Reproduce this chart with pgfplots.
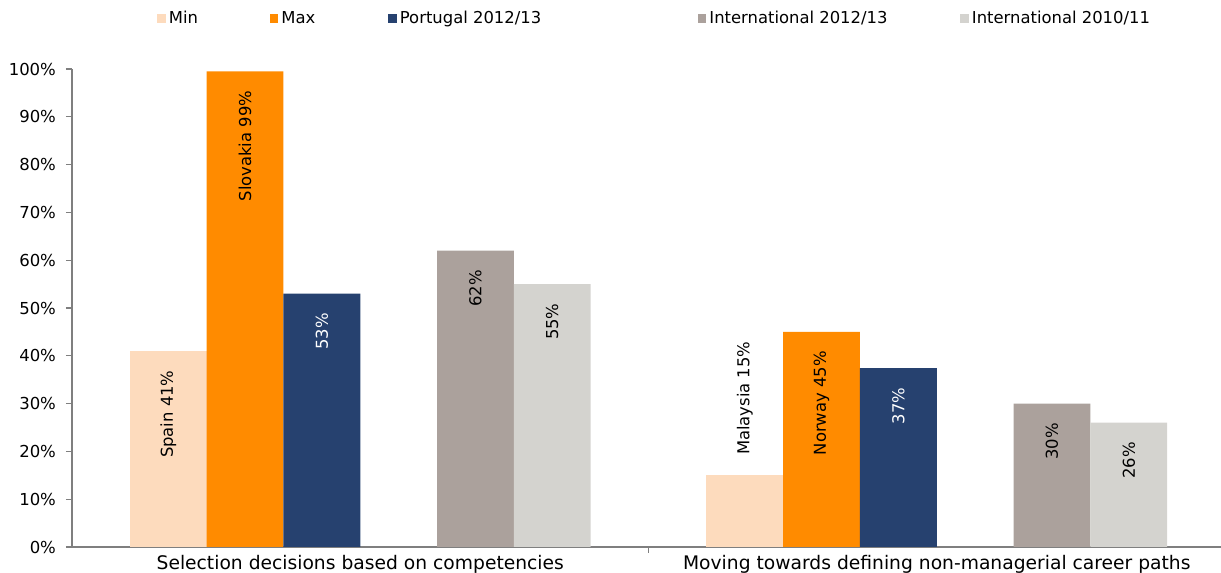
\documentclass[border=0pt]{standalone}
\usepackage{pgfplots}
\pgfplotsset{compat=1.18}
\usepackage{fontspec}
\setmainfont{DejaVu Sans}
\definecolor{cmin}{HTML}{FDDBBD}
\definecolor{cmax}{HTML}{FF8B00}
\definecolor{cpt}{HTML}{26416F}
\definecolor{cint}{HTML}{ABA19C}
\definecolor{cold}{HTML}{D4D3CF}
\definecolor{axgray}{HTML}{7F7F7F}
\newcommand\tickfont{\fontsize{8.25}{9}\selectfont}
\newcommand\catfont{\fontsize{9.35}{11}\selectfont}
\newcommand\lblfont{\fontsize{8.2}{9}\selectfont}
\newcommand\legfont{\fontsize{8.2}{9}\selectfont}
\pgfplotsset{
  lblin/.style={nodes near coords, point meta=explicit symbolic,
    every node near coord/.append style={font=\lblfont, text=#1, inner sep=0pt, yshift=-9.5pt, rotate=90, anchor=east}},
  lblout/.style={nodes near coords, point meta=explicit symbolic,
    every node near coord/.append style={font=\lblfont, text=#1, inner sep=0pt, yshift=10pt, rotate=90, anchor=west}},
  sq/.style={legend image code/.code={\fill[##1,draw=none] (0pt,-2pt) rectangle (4.25pt,2.25pt);}},
}
\begin{document}
\begin{tikzpicture}
\useasboundingbox (-36pt,-13pt) rectangle (574.5pt,273.5pt);
\begin{axis}[
  at={(0,0)}, anchor=south west,
  scale only axis, width=574.5pt, height=239pt,
  xmin=-0.5, xmax=1.493, ymin=0, ymax=100,
  axis x line=bottom, axis y line=left,
  axis line style={-, draw=axgray, line width=0.6pt},
  tick align=outside,
  major tick length=3pt,
  ytick={0,10,...,100},
  yticklabel={\pgfmathprintnumber{\tick}\%},
  /pgf/number format/assume math mode=true,
  ytick style={draw=axgray, line width=0.6pt},
  yticklabel style={font=\tickfont, text=black, xshift=-1.5pt},
  xtick={0.5}, xticklabels={{}},
  xtick style={draw=axgray, line width=0.6pt},
  extra x ticks={0,1},
  extra x tick labels={Selection decisions based on competencies, Moving towards defining non-managerial career paths},
  extra x tick style={major tick length=0pt},
  xticklabel style={font=\catfont, text=black, inner sep=0pt, anchor=north, yshift=-4pt},
  ybar, bar width=38.4pt,
  legend columns=-1,
  legend style={draw=none, fill=none, inner sep=0pt, at={(0.074,1.1046)}, anchor=west,
    font=\legfont, nodes={inner sep=0pt},
    /tikz/every odd column/.append style={column sep=1.5pt},
    /tikz/every even column/.append style={column sep=0pt}},
]
\addplot[fill=cmin, draw=none, bar shift=-96pt, sq, lblin=black] coordinates {(0,41) [Spain 41\%]};
\addlegendentry{\makebox[50.5pt][l]{Min}}
\addplot[fill=cmin, draw=none, bar shift=-96pt, lblout=black, forget plot] coordinates {(1,15) [Malaysia 15\%]};
\addplot[fill=cmax, draw=none, bar shift=-57.6pt, sq, lblin=black] coordinates {(0,99.5) [Slovakia 99\%] (1,45) [Norway 45\%]};
\addlegendentry{\makebox[53.5pt][l]{Max}}
\addplot[fill=cpt, draw=none, bar shift=-19.2pt, sq, lblin=white] coordinates {(0,53) [53\%] (1,37.4) [37\%]};
\addlegendentry{\makebox[149pt][l]{Portugal 2012/13}}
\addplot[fill=cint, draw=none, bar shift=57.6pt, sq, lblin=black] coordinates {(0,62) [62\%] (1,30) [30\%]};
\addlegendentry{\makebox[125.5pt][l]{International 2012/13}}
\addplot[fill=cold, draw=none, bar shift=96pt, sq, lblin=black] coordinates {(0,55) [55\%] (1,26) [26\%]};
\addlegendentry{International 2010/11}
\end{axis}
\end{tikzpicture}
\end{document}
